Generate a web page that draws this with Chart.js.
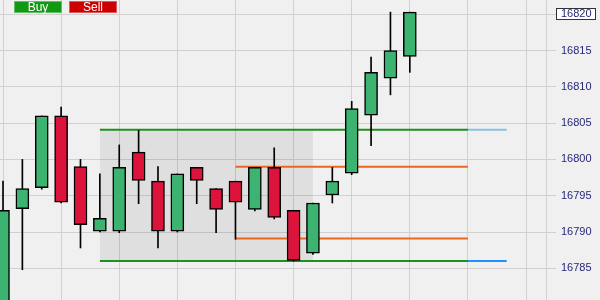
<!DOCTYPE html>
<html>
<head>
<meta charset="utf-8">
<script src="https://cdn.jsdelivr.net/npm/chart.js@4"></script>
<style>
  html, body { margin: 0; padding: 0; background: #f0f0f0; }
  #wrap { position: relative; width: 600px; height: 300px; overflow: hidden; background: #f0f0f0; }
  canvas { position: absolute; left: 0; top: 0; }
  .btn { position: absolute; top: 1px; height: 12px; width: 48px; box-sizing: border-box;
         color: #fff; font: 12px "Liberation Sans", Arial, sans-serif; line-height: 11px;
         text-align: center; border: 1px solid rgba(255,255,255,0.35); }
  #buy { left: 14px; background: #119911; }
  #sell { left: 69px; background: #cc0000; }
</style>
</head>
<body>
<div id="wrap">
  <canvas id="c" width="600" height="300"></canvas>
  <div class="btn" id="buy">Buy</div>
  <div class="btn" id="sell">Sell</div>
</div>
<script>
// ---- data ----
const bars   = [0,1,2,3,4,5,6,7,8,9,10,11,12,13,14,15,16,17,18,19,20,21];
const opens  = [16779,16793.2,16796.1,16806,16799,16790.1,16790.1,16801,16797,16790.1,16798.9,16796,16797,16793.1,16798.9,16793,16787.1,16795.1,16798.1,16806.1,16811.2,16814.2];
const highs  = [16797,16800,16806,16807.2,16800,16798,16802,16804,16799,16798,16798.9,16796,16797,16798.9,16801.6,16793,16794,16798.9,16808,16814.1,16820.3,16820.3];
const lows   = [16778,16784.8,16795.9,16794,16787.8,16790,16789.9,16793.9,16787.8,16790,16793.9,16789.9,16789,16792.9,16791.8,16786,16786.9,16794,16797.9,16801.9,16808.9,16812];
const closes = [16793,16796,16806,16794.1,16791,16791.9,16798.9,16797.1,16790.1,16798,16797.1,16793.1,16794.1,16798.9,16792,16786.1,16794,16797,16807,16812,16815,16820.3];
const yTicks = [16785,16790,16795,16800,16805,16810,16815,16820];
const xGrid  = [0,3,6,9,12,15,18,21,24,27];
const currentPrice = 16820;
// range box / levels (bar index units and prices)
const rangeLevels = [16804.1, 16786.0];
const rangeSpan   = [5, 24];
const rangeExt    = [24, 26];
const boxSpan     = [5, 16];
const innerLevels = [16799.0, 16789.1];
const innerSpan   = [12, 24];

// ---- styles ----
const UP = '#3cb371', DOWN = '#dc143c';
const GREEN_LINE = '#1f8f1f', ORANGE = '#ee6422';
const EXT_COLORS = ['#88c0e6', '#1e90ff'];

const bodies = bars.map(i => ({x: i, y: [opens[i], closes[i]]}));
const wicks  = bars.map(i => ({x: i, y: [lows[i], highs[i]]}));

function seg(span, level) { return [{x: span[0], y: level}, {x: span[1], y: level}]; }
function lineDs(data, color, order) {
  return { type: 'line', data, borderColor: color, borderWidth: 2, pointRadius: 0,
           fill: false, order, tension: 0 };
}

const datasets = [
  { type: 'bar', data: bodies, grouped: false, barThickness: 13, order: 0,
    backgroundColor: bars.map(i => closes[i] >= opens[i] ? UP : DOWN),
    borderColor: '#000', borderWidth: 1.5, borderSkipped: false },
  { type: 'bar', data: wicks, grouped: false, barThickness: 1, order: 1,
    backgroundColor: '#000', borderWidth: 0 },
  lineDs(seg(rangeSpan, rangeLevels[0]), GREEN_LINE, 2),
  lineDs(seg(rangeSpan, rangeLevels[1]), GREEN_LINE, 2),
  lineDs(seg(rangeExt, rangeLevels[0]), EXT_COLORS[0], 2),
  lineDs(seg(rangeExt, rangeLevels[1]), EXT_COLORS[1], 2),
  lineDs(seg(innerSpan, innerLevels[0]), ORANGE, 2),
  lineDs(seg(innerSpan, innerLevels[1]), ORANGE, 2),
  { type: 'line', data: seg(boxSpan, rangeLevels[0]), borderWidth: 0, pointRadius: 0,
    backgroundColor: 'rgba(0,0,0,0.07)', fill: {value: rangeLevels[1]}, order: 3 }
];

const priceBox = {
  id: 'priceBox',
  beforeDraw(chart) {
    const y = chart.scales.y, ctx = chart.ctx;
    const py = Math.round(y.getPixelForValue(currentPrice));
    const left = Math.round(chart.chartArea.right) + 10;
    ctx.save();
    ctx.fillStyle = '#ffffff';
    ctx.fillRect(left, py - 6, 39, 11);
    ctx.strokeStyle = '#333333';
    ctx.lineWidth = 1;
    ctx.strokeRect(left + 0.5, py - 5.5, 39, 11);
    ctx.restore();
  }
};

new Chart(document.getElementById('c'), {
  type: 'bar',
  data: { datasets },
  plugins: [priceBox],
  options: {
    responsive: false,
    animation: false,
    layout: { padding: 0 },
    plugins: { legend: { display: false }, tooltip: { enabled: false } },
    scales: {
      x: {
        type: 'linear', min: -0.155, max: 28.03, offset: false,
        afterBuildTicks: a => { a.ticks = xGrid.map(v => ({value: v})); },
        afterFit: a => { a.height = 0; a.paddingLeft = 0; a.paddingRight = 0; },
        ticks: { display: false },
        grid: { color: '#d0d0d0', drawTicks: false, lineWidth: 1, offset: false },
        border: { display: false }
      },
      y: {
        position: 'right', min: 16780.63, max: 16821.97,
        afterBuildTicks: a => { a.ticks = yTicks.map(v => ({value: v})); },
        afterFit: a => { a.width = 54; a.paddingTop = 0; a.paddingBottom = 0; },
        ticks: { color: '#26267a', padding: 5,
                 callback: v => String(v),
                 font: { family: '"Liberation Sans", Arial, sans-serif', size: 11 } },
        grid: { color: '#d0d0d0', tickLength: 10, lineWidth: 1 },
        border: { display: true, color: '#d0d0d0' }
      }
    }
  }
});
</script>
</body>
</html>
